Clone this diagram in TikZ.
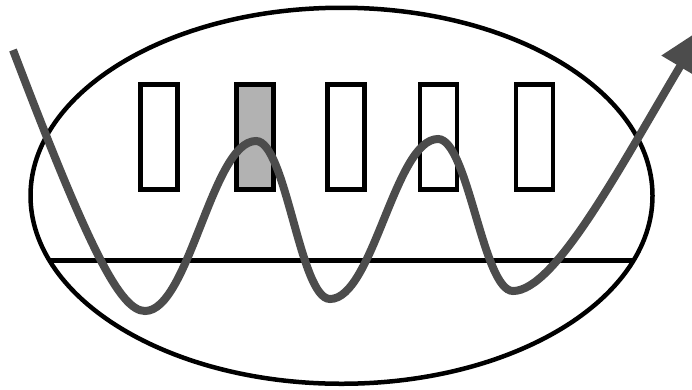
\documentclass[tikz,border=0pt]{standalone}
\usetikzlibrary{arrows.meta}
\tikzset{slot/.style={draw,line width=4.5pt,minimum width=37pt,minimum height=105pt,inner sep=0pt},
         wave/.style={draw=black!70,line width=8pt,-{Triangle[width=41pt,length=45pt]}}}
\begin{document}
\begin{tikzpicture}[x=1pt,y=-1pt]
\useasboundingbox (0,0) rectangle (692,389);
\draw[line width=4.5pt] (341.5,195.75) ellipse [x radius=311, y radius=188];
\foreach \N/\X in {s1/159,s2/255,s3/346,s4/438.5,s5/534.5}{\node[slot] (\N) at (\X,137) {};}
\fill[black!30] (s2.south west) rectangle (s2.north east);
\node[slot] at (s2) {};
\coordinate (cL) at (48.5,260.5); \coordinate (cR) at (634.5,260.5);
\draw[line width=4.5pt] (cL) -- (cR);
\coordinate (w0) at (13,50); \coordinate (m1) at (145,311); \coordinate (p1) at (256,141);
\coordinate (m2) at (330,299); \coordinate (p2) at (438,139); \coordinate (m3) at (513,291);
\coordinate (tip) at (703,28);
\path[wave] (w0) .. controls (88,247) and (120,311) .. (m1)
  .. controls (189,311) and (212,141) .. (p1)
  .. controls (286,141) and (300,299) .. (m2)
  .. controls (373,299) and (395,139) .. (p2)
  .. controls (468,139) and (483,291) .. (m3)
  .. controls (555,291) and (620,167) .. (tip);
\end{tikzpicture}
\end{document}
